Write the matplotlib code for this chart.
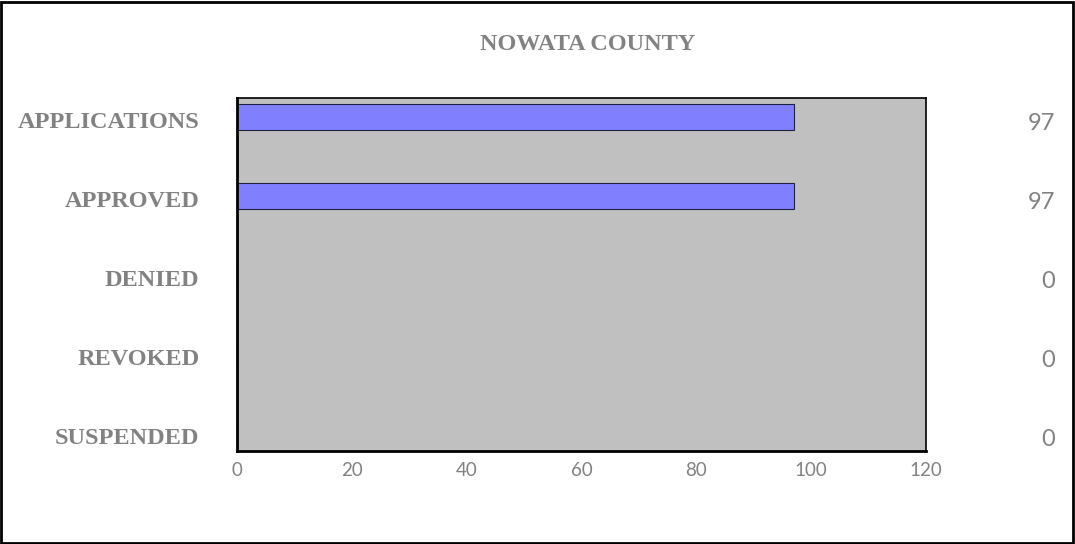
import matplotlib
matplotlib.use("Agg")
import matplotlib.pyplot as plt
import matplotlib.transforms as mtransforms
from matplotlib.patches import Rectangle

# chart data
categories = ["APPLICATIONS", "APPROVED", "DENIED", "REVOKED", "SUSPENDED"]
values = [97, 97, 0, 0, 0]
x_ticks = [0, 20, 40, 60, 80, 100, 120]
title = "NOWATA COUNTY"

W, H = 1075, 544
fig = plt.figure(figsize=(W / 100, H / 100), dpi=100)

# outer frame
fig.patches.append(Rectangle((0.001, 0.002), 0.997, 0.995, transform=fig.transFigure,
                             fill=False, edgecolor="black", linewidth=2))

ax_left, ax_right, ax_top, ax_bottom = 237, 926, 98, 451
ax = fig.add_axes([ax_left / W, 1 - ax_bottom / H, (ax_right - ax_left) / W, (ax_bottom - ax_top) / H])
ax.set_facecolor("#C0C0C0")

pos = list(range(len(categories)))
ax.barh(pos, values, height=0.33, color="#8080FF", edgecolor="#202040", linewidth=0.8)
ax.set_xlim(0, 120)
ax.set_ylim(4.23, -0.24)

for s in ax.spines.values():
    s.set_color("black")
    s.set_linewidth(1.2)
ax.spines["left"].set_linewidth(2)
ax.spines["bottom"].set_linewidth(2)

gray = "#828282"
ax.set_xticks(x_ticks)
ax.set_xticklabels([str(t) for t in x_ticks], fontfamily="Lato", fontsize=13.5, color=gray)
ax.tick_params(axis="x", length=0, pad=8)

ax.set_yticks(pos)
ax.set_yticklabels(categories, fontfamily="Liberation Serif", fontweight="bold",
                   fontsize=17.5, color=gray)
ax.tick_params(axis="y", length=0, pad=27)
# category labels sit a little below the bar centres in the original
down = mtransforms.ScaledTranslation(0, -3 / 100, fig.dpi_scale_trans)
for lbl in ax.get_yticklabels():
    lbl.set_transform(lbl.get_transform() + down)

# value labels on the right, x in figure coords, y in data coords
trans = mtransforms.blended_transform_factory(fig.transFigure, ax.transData)
shift = mtransforms.ScaledTranslation(0, -7 / 100, fig.dpi_scale_trans)
for p, v in zip(pos, values):
    ax.text(1055 / W, p, str(v), transform=trans + shift, ha="right", va="center",
            fontfamily="Lato", fontsize=17, color=gray)

fig.text(588 / W, 1 - 45 / H, title, ha="center", va="center",
         fontfamily="Liberation Serif", fontweight="bold", fontsize=17.5, color=gray)

fig.savefig("out.png", dpi=100)
